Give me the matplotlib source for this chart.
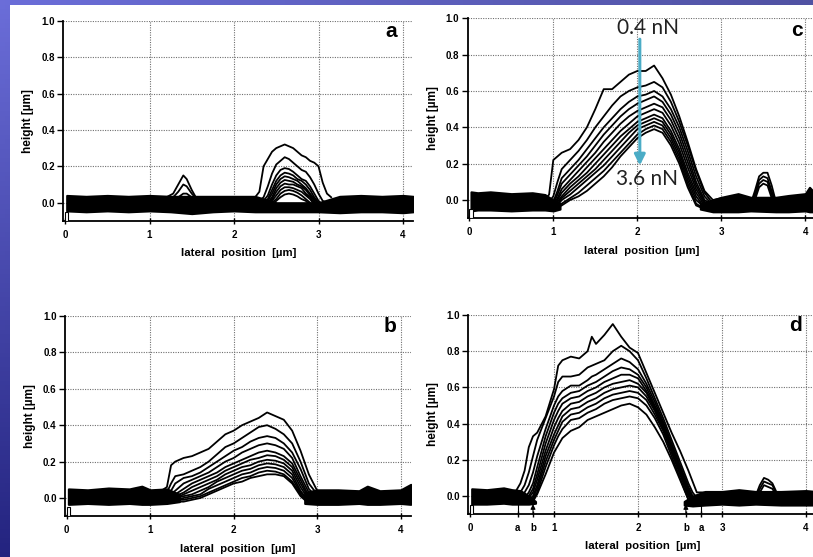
import numpy as np
import matplotlib.pyplot as plt
from matplotlib.patches import Rectangle

plt.rcParams['font.family'] = ['Liberation Sans', 'DejaVu Sans']
plt.rcParams['font.weight'] = 'bold'

# ---------------- data ----------------
y_ticks = [0.0, 0.2, 0.4, 0.6, 0.8, 1.0]
y_ticklabels = ['0.0', '0.2', '0.4', '0.6', '0.8', '1.0']
x_ticks = [0, 1, 2, 3, 4]
x_ticklabels = ['0', '1', '2', '3', '4']
d_ticks = [0, 0.57, 0.75, 1, 2, 2.57, 2.75, 3, 4]
d_ticklabels = ['0', 'a', 'b', '1', '2', 'b', 'a', '3', '4']

# panel a
a_x = [2.25, 2.30, 2.35, 2.40, 2.45, 2.50, 2.55, 2.60, 2.65, 2.70, 2.75, 2.80, 2.85, 2.90, 2.95, 3.00, 3.05, 3.10, 3.15]
a_curves = [
    [0.03, 0.06, 0.20, 0.24, 0.28, 0.30, 0.31, 0.32, 0.31, 0.30, 0.28, 0.26, 0.25, 0.23, 0.22, 0.20, 0.11, 0.05, 0.03],
    [0.00, 0.01, 0.03, 0.09, 0.16, 0.21, 0.23, 0.25, 0.24, 0.22, 0.20, 0.18, 0.17, 0.14, 0.10, 0.05, 0.01, 0.00, 0.00],
    [-0.01, 0.00, 0.01, 0.04, 0.10, 0.15, 0.18, 0.19, 0.185, 0.17, 0.15, 0.13, 0.12, 0.09, 0.05, 0.01, -0.01, -0.01, -0.01],
    [-0.02, -0.01, 0.00, 0.02, 0.07, 0.12, 0.15, 0.165, 0.16, 0.15, 0.13, 0.12, 0.10, 0.07, 0.03, 0.00, -0.02, -0.02, -0.02],
    [-0.02, -0.02, -0.01, 0.01, 0.05, 0.10, 0.13, 0.145, 0.14, 0.13, 0.12, 0.10, 0.08, 0.05, 0.02, -0.01, -0.02, -0.02, -0.02],
    [-0.03, -0.02, -0.02, 0.00, 0.03, 0.08, 0.11, 0.125, 0.12, 0.115, 0.10, 0.09, 0.07, 0.04, 0.01, -0.02, -0.03, -0.03, -0.03],
    [-0.03, -0.03, -0.02, -0.01, 0.02, 0.06, 0.09, 0.105, 0.10, 0.10, 0.09, 0.08, 0.05, 0.03, 0.00, -0.03, -0.03, -0.03, -0.03],
    [-0.03, -0.03, -0.03, -0.02, 0.01, 0.04, 0.07, 0.085, 0.085, 0.08, 0.07, 0.06, 0.04, 0.02, -0.01, -0.03, -0.03, -0.03, -0.03],
    [-0.04, -0.04, -0.03, -0.03, 0.00, 0.02, 0.05, 0.065, 0.07, 0.065, 0.055, 0.04, 0.02, 0.00, -0.02, -0.04, -0.04, -0.04, -0.04],
    [-0.04, -0.04, -0.04, -0.03, -0.01, 0.01, 0.03, 0.045, 0.05, 0.045, 0.035, 0.02, 0.01, -0.01, -0.03, -0.04, -0.04, -0.04, -0.04],
]
a_x2 = [1.20, 1.28, 1.34, 1.40, 1.44, 1.50, 1.56, 1.62]
a_curves2 = [
    [0.03, 0.05, 0.10, 0.15, 0.13, 0.07, 0.02, 0.02],
    [0.02, 0.03, 0.06, 0.10, 0.09, 0.05, 0.02, 0.02],
    [0.01, 0.02, 0.03, 0.05, 0.05, 0.03, 0.01, 0.01],
]
a_band_x = [0.02, 0.25, 0.5, 0.75, 1.0, 1.25, 1.5, 1.75, 2.0, 2.25, 2.5, 2.75, 3.0, 3.25, 3.5, 3.75, 4.0, 4.12]
a_band_hi = [0.04, 0.035, 0.04, 0.035, 0.04, 0.035, 0.035, 0.035, 0.035, 0.035, 0.0, 0.0, 0.0, 0.035, 0.04, 0.035, 0.04, 0.035]
a_band_lo = [-0.045, -0.05, -0.045, -0.05, -0.045, -0.05, -0.06, -0.05, -0.045, -0.05, -0.05, -0.05, -0.05, -0.055, -0.05, -0.05, -0.055, -0.05]

# panel b
b_x = [1.10, 1.20, 1.25, 1.30, 1.40, 1.50, 1.60, 1.70, 1.80, 1.90, 2.00, 2.10, 2.20, 2.30, 2.40, 2.50, 2.60, 2.70, 2.80, 2.90, 3.00, 3.05]
b_curves = [
    [0.03, 0.06, 0.18, 0.20, 0.22, 0.23, 0.25, 0.27, 0.31, 0.35, 0.37, 0.40, 0.42, 0.44, 0.47, 0.45, 0.43, 0.37, 0.26, 0.13, 0.04, 0.03],
    [0.02, 0.03, 0.08, 0.12, 0.13, 0.15, 0.17, 0.20, 0.24, 0.28, 0.30, 0.33, 0.36, 0.39, 0.40, 0.38, 0.35, 0.30, 0.20, 0.08, 0.02, 0.02],
    [0.01, 0.02, 0.04, 0.08, 0.11, 0.12, 0.14, 0.17, 0.20, 0.23, 0.26, 0.28, 0.31, 0.33, 0.34, 0.33, 0.30, 0.25, 0.16, 0.05, 0.00, 0.00],
    [0.00, 0.01, 0.02, 0.04, 0.08, 0.10, 0.12, 0.14, 0.17, 0.20, 0.22, 0.25, 0.27, 0.29, 0.30, 0.29, 0.27, 0.22, 0.12, 0.03, -0.01, -0.01],
    [0.00, 0.00, 0.01, 0.02, 0.05, 0.08, 0.10, 0.12, 0.14, 0.17, 0.19, 0.21, 0.23, 0.25, 0.26, 0.25, 0.23, 0.19, 0.10, 0.01, -0.02, -0.02],
    [-0.01, 0.00, 0.00, 0.01, 0.03, 0.06, 0.08, 0.10, 0.12, 0.15, 0.17, 0.19, 0.21, 0.22, 0.235, 0.23, 0.21, 0.17, 0.08, 0.00, -0.02, -0.02],
    [-0.01, -0.01, 0.00, 0.00, 0.02, 0.04, 0.06, 0.08, 0.10, 0.13, 0.15, 0.17, 0.18, 0.20, 0.21, 0.205, 0.19, 0.15, 0.06, -0.01, -0.02, -0.02],
    [-0.02, -0.01, -0.01, 0.00, 0.01, 0.02, 0.04, 0.06, 0.09, 0.11, 0.13, 0.15, 0.16, 0.18, 0.19, 0.185, 0.17, 0.13, 0.04, -0.02, -0.03, -0.03],
    [-0.02, -0.02, -0.01, -0.01, 0.00, 0.01, 0.02, 0.05, 0.07, 0.09, 0.11, 0.13, 0.14, 0.16, 0.17, 0.165, 0.15, 0.11, 0.03, -0.02, -0.03, -0.03],
    [-0.02, -0.02, -0.02, -0.01, -0.01, 0.00, 0.01, 0.03, 0.05, 0.07, 0.09, 0.11, 0.12, 0.14, 0.15, 0.145, 0.13, 0.09, 0.02, -0.03, -0.03, -0.03],
    [-0.03, -0.03, -0.02, -0.02, -0.02, -0.01, 0.00, 0.02, 0.04, 0.06, 0.08, 0.09, 0.11, 0.12, 0.13, 0.13, 0.12, 0.08, 0.01, -0.03, -0.03, -0.03],
]
b_band_x1 = [0.02, 0.25, 0.5, 0.75, 0.9, 1.0, 1.2, 1.35]
b_band_hi1 = [0.05, 0.045, 0.055, 0.05, 0.065, 0.045, 0.05, 0.02]
b_band_lo1 = [-0.035, -0.03, -0.035, -0.03, -0.035, -0.035, -0.03, -0.02]
b_band_x2 = [2.85, 3.0, 3.25, 3.5, 3.6, 3.75, 4.0, 4.12]
b_band_hi2 = [0.03, 0.045, 0.045, 0.04, 0.065, 0.04, 0.045, 0.075]
b_band_lo2 = [-0.03, -0.035, -0.035, -0.03, -0.035, -0.035, -0.03, -0.035]

# panel c
c_x = [0.90, 0.95, 1.00, 1.05, 1.10, 1.20, 1.30, 1.40, 1.50, 1.60, 1.70, 1.80, 1.90, 2.00, 2.10, 2.20, 2.30, 2.40, 2.50, 2.60, 2.70, 2.80, 2.90, 3.00]
c_curves = [
    [0.00, 0.03, 0.22, 0.24, 0.26, 0.28, 0.33, 0.40, 0.50, 0.61, 0.61, 0.65, 0.69, 0.71, 0.71, 0.74, 0.67, 0.58, 0.46, 0.32, 0.17, 0.05, 0.00, 0.01],
    [-0.01, -0.01, 0.02, 0.10, 0.17, 0.22, 0.27, 0.33, 0.40, 0.46, 0.52, 0.57, 0.60, 0.62, 0.63, 0.65, 0.62, 0.54, 0.43, 0.30, 0.16, 0.04, -0.02, -0.02],
    [-0.02, -0.02, -0.01, 0.05, 0.12, 0.17, 0.22, 0.28, 0.34, 0.40, 0.45, 0.50, 0.54, 0.57, 0.58, 0.60, 0.57, 0.50, 0.40, 0.27, 0.13, 0.02, -0.03, -0.03],
    [-0.02, -0.02, -0.02, 0.03, 0.09, 0.14, 0.19, 0.24, 0.30, 0.36, 0.41, 0.46, 0.50, 0.53, 0.55, 0.57, 0.54, 0.47, 0.37, 0.24, 0.10, 0.00, -0.03, -0.03],
    [-0.03, -0.03, -0.02, 0.01, 0.06, 0.11, 0.16, 0.21, 0.26, 0.32, 0.37, 0.42, 0.46, 0.49, 0.51, 0.53, 0.51, 0.44, 0.34, 0.21, 0.08, -0.01, -0.04, -0.04],
    [-0.03, -0.03, -0.03, 0.00, 0.04, 0.09, 0.13, 0.18, 0.23, 0.28, 0.33, 0.38, 0.42, 0.46, 0.48, 0.50, 0.48, 0.41, 0.31, 0.18, 0.06, -0.02, -0.04, -0.04],
    [-0.03, -0.03, -0.03, -0.01, 0.02, 0.07, 0.11, 0.15, 0.20, 0.25, 0.30, 0.35, 0.39, 0.43, 0.45, 0.47, 0.45, 0.38, 0.28, 0.15, 0.04, -0.03, -0.04, -0.04],
    [-0.04, -0.04, -0.03, -0.02, 0.01, 0.05, 0.09, 0.13, 0.17, 0.22, 0.27, 0.32, 0.37, 0.41, 0.43, 0.45, 0.43, 0.36, 0.26, 0.13, 0.02, -0.04, -0.05, -0.05],
    [-0.04, -0.04, -0.04, -0.03, 0.00, 0.03, 0.07, 0.11, 0.15, 0.19, 0.24, 0.29, 0.34, 0.39, 0.41, 0.43, 0.41, 0.34, 0.24, 0.11, 0.00, -0.04, -0.05, -0.05],
    [-0.04, -0.04, -0.04, -0.04, -0.02, 0.01, 0.04, 0.08, 0.12, 0.16, 0.21, 0.26, 0.31, 0.36, 0.39, 0.41, 0.39, 0.32, 0.22, 0.09, -0.02, -0.05, -0.05, -0.05],
    [-0.05, -0.05, -0.05, -0.04, -0.03, 0.00, 0.02, 0.05, 0.09, 0.13, 0.18, 0.24, 0.29, 0.34, 0.37, 0.39, 0.37, 0.30, 0.20, 0.07, -0.03, -0.05, -0.05, -0.05],
]
c_x2 = [3.35, 3.40, 3.45, 3.50, 3.55, 3.60, 3.65]
c_curves2 = [
    [-0.02, 0.05, 0.13, 0.15, 0.15, 0.08, -0.01],
    [-0.03, 0.03, 0.11, 0.13, 0.12, 0.05, -0.02],
    [-0.03, 0.02, 0.09, 0.11, 0.10, 0.03, -0.03],
    [-0.04, 0.00, 0.07, 0.09, 0.08, 0.01, -0.04],
]
c_band_x1 = [0.02, 0.1, 0.25, 0.5, 0.75, 0.9, 1.0, 1.08]
c_band_hi1 = [0.045, 0.04, 0.045, 0.035, 0.04, 0.03, 0.0, -0.02]
c_band_lo1 = [-0.06, -0.055, -0.055, -0.06, -0.055, -0.055, -0.06, -0.05]
c_band_x2 = [2.75, 2.9, 3.0, 3.2, 3.35, 3.65, 3.8, 4.0, 4.05, 4.12]
c_band_hi2 = [-0.02, 0.0, 0.015, 0.035, 0.015, 0.015, 0.025, 0.035, 0.07, 0.035]
c_band_lo2 = [-0.05, -0.065, -0.065, -0.065, -0.06, -0.065, -0.065, -0.06, -0.065, -0.065]

# panel d
d_x = [0.50, 0.55, 0.60, 0.65, 0.70, 0.75, 0.80, 0.90, 1.00, 1.05, 1.10, 1.20, 1.30, 1.40, 1.45,
       1.50, 1.60, 1.70, 1.80, 1.90, 2.00, 2.10, 2.20, 2.30, 2.40, 2.50, 2.60, 2.65, 2.70, 2.80]
d_curves = [
    [0.02, 0.03, 0.07, 0.14, 0.27, 0.33, 0.35, 0.44, 0.59, 0.72, 0.75, 0.77, 0.76, 0.80, 0.88, 0.84, 0.89, 0.95, 0.88, 0.82, 0.79, 0.68, 0.57, 0.46, 0.35, 0.25, 0.14, 0.08, 0.02, 0.02],
    [0.00, 0.00, 0.02, 0.06, 0.13, 0.22, 0.31, 0.43, 0.55, 0.63, 0.66, 0.66, 0.67, 0.71, 0.72, 0.73, 0.75, 0.80, 0.83, 0.80, 0.75, 0.65, 0.54, 0.43, 0.31, 0.19, 0.07, 0.02, -0.01, 0.00],
    [-0.01, -0.01, -0.01, 0.02, 0.06, 0.13, 0.22, 0.37, 0.50, 0.55, 0.58, 0.61, 0.61, 0.64, 0.66, 0.67, 0.70, 0.73, 0.76, 0.74, 0.70, 0.62, 0.52, 0.41, 0.29, 0.17, 0.05, 0.00, -0.02, -0.02],
    [-0.02, -0.02, -0.02, -0.01, 0.02, 0.07, 0.16, 0.33, 0.46, 0.51, 0.54, 0.57, 0.58, 0.61, 0.62, 0.63, 0.66, 0.69, 0.71, 0.70, 0.67, 0.60, 0.50, 0.40, 0.28, 0.16, 0.04, -0.01, -0.03, -0.03],
    [-0.02, -0.02, -0.02, -0.02, 0.00, 0.04, 0.12, 0.29, 0.42, 0.47, 0.51, 0.54, 0.55, 0.58, 0.59, 0.60, 0.63, 0.65, 0.67, 0.67, 0.65, 0.58, 0.49, 0.39, 0.27, 0.15, 0.03, -0.02, -0.03, -0.03],
    [-0.03, -0.03, -0.03, -0.02, -0.01, 0.02, 0.09, 0.25, 0.38, 0.43, 0.47, 0.51, 0.52, 0.55, 0.56, 0.57, 0.60, 0.62, 0.63, 0.64, 0.62, 0.57, 0.48, 0.38, 0.26, 0.14, 0.02, -0.03, -0.03, -0.03],
    [-0.03, -0.03, -0.03, -0.03, -0.02, 0.00, 0.06, 0.22, 0.34, 0.39, 0.44, 0.48, 0.49, 0.52, 0.53, 0.54, 0.57, 0.59, 0.60, 0.61, 0.60, 0.55, 0.47, 0.37, 0.25, 0.13, 0.01, -0.03, -0.04, -0.04],
    [-0.03, -0.03, -0.03, -0.03, -0.03, -0.01, 0.04, 0.19, 0.31, 0.36, 0.41, 0.45, 0.46, 0.49, 0.50, 0.51, 0.54, 0.56, 0.57, 0.58, 0.57, 0.53, 0.45, 0.36, 0.24, 0.12, 0.00, -0.04, -0.04, -0.04],
    [-0.04, -0.04, -0.04, -0.03, -0.03, -0.02, 0.02, 0.16, 0.28, 0.33, 0.37, 0.42, 0.43, 0.46, 0.47, 0.48, 0.51, 0.53, 0.54, 0.55, 0.54, 0.50, 0.43, 0.34, 0.22, 0.10, -0.02, -0.04, -0.04, -0.04],
    [-0.04, -0.04, -0.04, -0.04, -0.03, -0.03, 0.01, 0.12, 0.24, 0.28, 0.32, 0.36, 0.38, 0.42, 0.43, 0.44, 0.46, 0.48, 0.50, 0.51, 0.49, 0.45, 0.38, 0.30, 0.20, 0.09, -0.02, -0.04, -0.04, -0.04],
]
d_x2 = [3.40, 3.45, 3.50, 3.55, 3.60, 3.65, 3.70]
d_curves2 = [
    [0.00, 0.06, 0.10, 0.09, 0.07, 0.02, -0.01],
    [-0.01, 0.04, 0.08, 0.07, 0.06, 0.01, -0.02],
    [-0.02, 0.02, 0.06, 0.05, 0.04, 0.00, -0.03],
]
d_band_x1 = [0.02, 0.2, 0.4, 0.5, 0.6, 0.7, 0.78]
d_band_hi1 = [0.04, 0.035, 0.045, 0.035, 0.03, 0.0, -0.03]
d_band_lo1 = [-0.045, -0.045, -0.04, -0.045, -0.045, -0.045, -0.04]
d_band_x2 = [2.55, 2.65, 2.8, 3.0, 3.2, 3.4, 3.7, 4.0, 4.12]
d_band_hi2 = [-0.03, 0.0, 0.025, 0.025, 0.035, 0.025, 0.025, 0.03, 0.025]
d_band_lo2 = [-0.05, -0.055, -0.05, -0.045, -0.05, -0.045, -0.05, -0.05, -0.05]

W, H = 813, 557
fig = plt.figure(figsize=(W / 100, H / 100), dpi=100)

# slide background: blue gradient with the white scan on top
bg = fig.add_axes([0, 0, 1, 1])
bg.axis('off')
gy = np.linspace(0, 1, 120)[:, None]
gx = np.linspace(0, 1, 160)[None, :]
top = np.array([0.42, 0.43, 0.85])
bot = np.array([0.14, 0.14, 0.50])
img = top * (1 - gy[..., None]) + bot * gy[..., None]
img = img * (1 - 0.25 * gx[..., None])
bg.imshow(img, aspect='auto', extent=[0, 1, 0, 1], origin='upper')
bg.set_xlim(0, 1)
bg.set_ylim(0, 1)
bg.add_patch(Rectangle((10 / W, 0), 1, 1 - 5 / H, facecolor='white', edgecolor='none'))

BOLD = dict(fontweight='bold', family='Liberation Sans')


def make_panel(x0, sx, y1, sy):
    # x0: pixel of x=0, sx: px per um, y1: pixel row of y=1.0, sy: px per unit
    left = x0 - 0.02 * sx
    width = 4.14 * sx
    height = 1.1 * sy
    ax = fig.add_axes([left / W, 1 - (y1 + height) / H, width / W, height / H])
    ax.set_xlim(-0.02, 4.12)
    ax.set_ylim(-0.1, 1.0)
    ax.patch.set_alpha(0)
    for s in ['top', 'right']:
        ax.spines[s].set_visible(False)
    for s in ['left', 'bottom']:
        ax.spines[s].set_linewidth(1.3)
    for yv in y_ticks:
        ax.axhline(yv, color='#707070', lw=0.8, ls=(0, (1, 1.2)), zorder=1)
    for xv in x_ticks[1:]:
        ax.axvline(xv, color='#707070', lw=0.8, ls=(0, (1, 1.2)), zorder=1)
    ax.set_yticks(y_ticks)
    ax.set_yticklabels(y_ticklabels, fontsize=7, **BOLD)
    ax.set_xticks(x_ticks)
    ax.set_xticklabels(x_ticklabels, fontsize=7, **BOLD)
    ax.tick_params(axis='x', direction='inout', length=5, width=1, pad=4)
    ax.tick_params(axis='y', direction='out', length=4, width=1, pad=2)
    ax.set_xlabel('lateral  position  [\u00b5m]', fontsize=8.2, labelpad=6, **BOLD)
    ax.set_ylabel('height [\u00b5m]', fontsize=8.5, labelpad=5, **BOLD)
    # small start-of-scan box at the origin
    ax.add_patch(Rectangle((0.0, -0.1), 0.04, 0.05, facecolor='white',
                           edgecolor='black', lw=0.8, zorder=4))
    return ax


def draw_curves(ax, xs, curves):
    for ys in curves:
        ax.plot(xs, ys, color='black', lw=1.3, zorder=3, solid_joinstyle='round')


def draw_band(ax, xs, lo, hi):
    ax.fill_between(xs, lo, hi, color='black', lw=1.5, edgecolor='black', zorder=2)


def panel_letter(ax, x, y, s):
    ax.text(x, y, s, fontsize=15, ha='center', va='center', **BOLD)


# panel a
ax_a = make_panel(65, 84.5, 20.7, 182)
draw_band(ax_a, a_band_x, a_band_lo, a_band_hi)
draw_curves(ax_a, a_x, a_curves)
draw_curves(ax_a, a_x2, a_curves2)
panel_letter(ax_a, 3.86, 0.94, 'a')

# panel c
ax_c = make_panel(469.3, 84, 18.3, 181.7)
draw_band(ax_c, c_band_x1, c_band_lo1, c_band_hi1)
draw_band(ax_c, c_band_x2, c_band_lo2, c_band_hi2)
draw_curves(ax_c, c_x, c_curves)
draw_curves(ax_c, c_x2, c_curves2)
panel_letter(ax_c, 3.9, 0.935, 'c')
ax_c.annotate('', xy=(2.03, 0.19), xytext=(2.03, 0.885),
              arrowprops=dict(arrowstyle='-|>', color='#4BACC6', lw=2.2,
                              mutation_scale=16, shrinkA=0, shrinkB=0), zorder=5)
ax_c.text(2.13, 0.945, '0.4 nN', family='Lato', fontweight='normal', fontsize=15,
          color='#222222', ha='center', va='center', zorder=6)
ax_c.text(2.12, 0.115, '3.6 nN', family='Lato', fontweight='normal', fontsize=15,
          color='#222222', ha='center', va='center', zorder=6)

# panel b
ax_b = make_panel(66.7, 83.5, 316, 182)
draw_band(ax_b, b_band_x1, b_band_lo1, b_band_hi1)
draw_band(ax_b, b_band_x2, b_band_lo2, b_band_hi2)
draw_curves(ax_b, b_x, b_curves)
panel_letter(ax_b, 3.87, 0.94, 'b')

# panel d
ax_d = make_panel(470, 84, 315, 181)
draw_band(ax_d, d_band_x1, d_band_lo1, d_band_hi1)
draw_band(ax_d, d_band_x2, d_band_lo2, d_band_hi2)
draw_curves(ax_d, d_x, d_curves)
draw_curves(ax_d, d_x2, d_curves2)
ax_d.set_xticks(d_ticks)
ax_d.set_xticklabels(d_ticklabels, fontsize=7, **BOLD)
panel_letter(ax_d, 3.88, 0.94, 'd')
for xv, lab in zip(d_ticks, d_ticklabels):
    if lab == 'a':
        ax_d.vlines(xv, -0.1, 0.0, color='black', lw=0.8, zorder=3)
    elif lab == 'b':
        ax_d.annotate('', xy=(xv, -0.045), xytext=(xv, -0.1),
                      arrowprops=dict(arrowstyle='-|>', color='black', lw=0.8,
                                      mutation_scale=7, shrinkA=0, shrinkB=0))

fig.savefig('out.png', dpi=100)
